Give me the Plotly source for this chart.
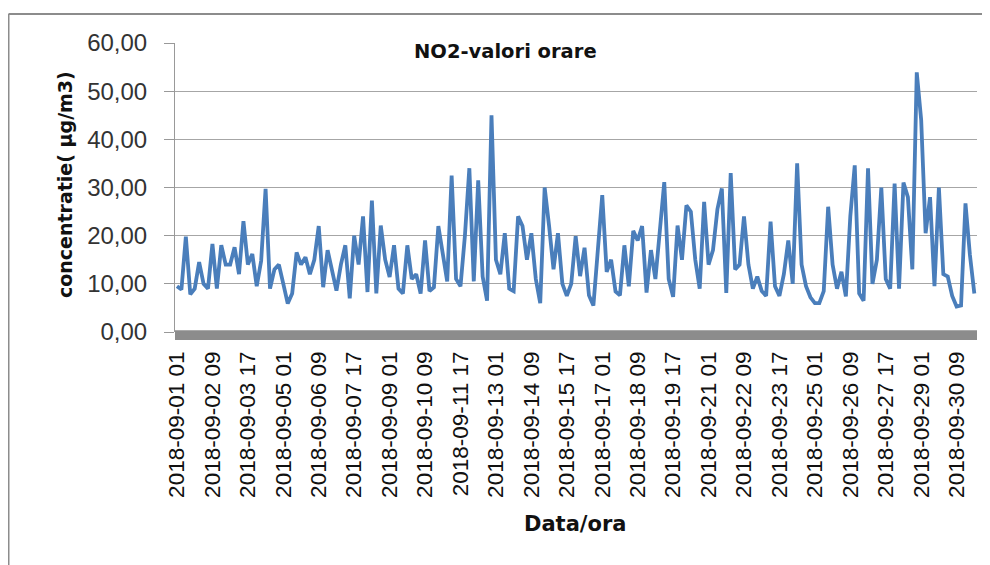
import pandas as pd
import plotly.graph_objects as go

# NO2 hourly values, read every 4 hours from the chart (ug/m3)
no2 = [
    9.5, 8.8, 19.8, 7.8, 9, 14.5, 10, 9, 18.3, 9,
    18, 14, 14, 17.6, 12, 23, 14, 16.2, 9.5, 14.8,
    29.7, 9, 13, 14, 10, 5.9, 8, 16.5, 14, 15.5,
    12, 15, 22, 9.3, 17, 13, 8.6, 14, 18, 7,
    20, 14, 24, 8.3, 27.3, 8, 22.1, 15, 11.4, 18,
    9, 8, 18, 11, 12, 8, 19, 8.5, 9.3, 22,
    16, 10.5, 32.5, 11, 9.5, 20, 34, 10.5, 31.5, 11.5,
    6.5, 45, 15, 12, 20.5, 9, 8.5, 24, 22, 15,
    20.5, 11, 6, 30, 22, 13, 20.5, 10, 7.5, 10,
    19.9, 11.6, 17.5, 7.6, 5.5, 16, 28.4, 12.5, 15, 8.4,
    7.6, 18, 9.5, 21, 19, 22, 8.2, 17, 11, 21,
    31.1, 11, 7.3, 22.1, 15, 26.3, 25, 15, 9, 27,
    14, 17, 25.5, 29.8, 8.1, 33, 13, 14, 24, 14,
    9, 11.5, 8.5, 7.5, 22.9, 9.5, 7.5, 12, 19, 10,
    35, 14, 9.5, 7.2, 6, 6, 8.5, 26, 14, 9,
    12.5, 7.4, 24, 34.6, 8, 6.5, 34, 10, 15, 30,
    11, 9, 30.8, 9, 31, 28, 13, 53.9, 44, 20.5,
    28, 9.5, 30, 12, 11.5, 7.5, 5.3, 5.5, 26.7, 16,
    8,
]

hours = pd.date_range("2018-09-01 01:00", periods=len(no2), freq="4h").strftime("%Y-%m-%d %H").tolist()

tick_labels = [
    "2018-09-01 01", "2018-09-02 09", "2018-09-03 17", "2018-09-05 01",
    "2018-09-06 09", "2018-09-07 17", "2018-09-09 01", "2018-09-10 09",
    "2018-09-11 17", "2018-09-13 01", "2018-09-14 09", "2018-09-15 17",
    "2018-09-17 01", "2018-09-18 09", "2018-09-19 17", "2018-09-21 01",
    "2018-09-22 09", "2018-09-23 17", "2018-09-25 01", "2018-09-26 09",
    "2018-09-27 17", "2018-09-29 01", "2018-09-30 09",
]

fnt = "Liberation Sans, Arial, sans-serif"
bold_fnt = "DejaVu Sans, Verdana, sans-serif"

fig = go.Figure()
fig.add_trace(go.Scatter(x=hours, y=no2, mode="lines",
                         line=dict(color="#4a7ebb", width=3.8), showlegend=False))

# page body has an 8px margin, so margins are shifted by 8px
fig.update_layout(
    width=990, height=565,
    margin=dict(l=167, r=21, t=35, b=241),
    paper_bgcolor="white", plot_bgcolor="white",
    separators=", ",
    font=dict(family=fnt, color="#222"),
    xaxis=dict(type="category", range=[-0.45, 180.6], tickvals=tick_labels, ticktext=tick_labels,
               tickangle=-90, tickfont=dict(size=22.5, color="#111"), showgrid=False,
               ticks="", ticklabelstandoff=14, zeroline=False),
    yaxis=dict(range=[0, 60], dtick=10, tickformat=".2f", tickfont=dict(size=24, color="#333"),
               ticks="outside", ticklen=10, tickcolor="#999", gridcolor="#a6a6a6",
               ticklabelstandoff=12, showline=True, linecolor="#999", zeroline=False),
)

# gray floor band under the plot
fig.add_shape(type="rect", xref="paper", yref="paper", x0=0, x1=1, y0=-0.028, y1=0.006,
              fillcolor="#8c8c8c", line=dict(width=0), layer="below")
# outer chart frame (left and top edges visible)
fig.add_shape(type="line", xref="paper", yref="paper", x0=-0.2076, x1=-0.2076, y0=-0.9, y1=1.1003,
              line=dict(color="#8c8c8c", width=2))
fig.add_shape(type="line", xref="paper", yref="paper", x0=-0.2076, x1=1.1, y0=1.1003, y1=1.1003,
              line=dict(color="#8c8c8c", width=2))

fig.add_annotation(text="<b>NO2-valori orare</b>", xref="paper", yref="paper", x=0.4115, y=0.969,
                   xanchor="center", yanchor="middle", showarrow=False,
                   font=dict(family=bold_fnt, size=19.5, color="#111"))
fig.add_annotation(text="<b>concentratie( µg/m3)</b>", xref="paper", yref="paper", x=-0.137, y=0.509,
                   xanchor="center", yanchor="middle", textangle=-90, showarrow=False,
                   font=dict(family=bold_fnt, size=19, color="#111"))
fig.add_annotation(text="<b>Data/ora</b>", xref="paper", yref="paper", x=0.4988, y=-0.664,
                   xanchor="center", yanchor="middle", showarrow=False,
                   font=dict(family=bold_fnt, size=21, color="#111"))

fig.write_html("out.html")
